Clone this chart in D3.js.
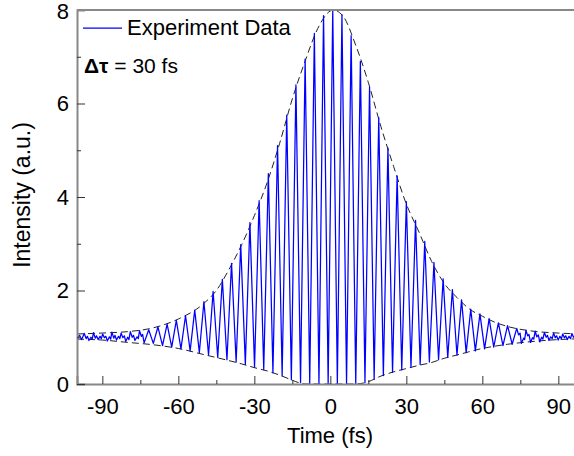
<!DOCTYPE html>
<html>
<head>
<meta charset="utf-8">
<script src="https://cdn.jsdelivr.net/npm/d3@7"></script>
<style>
  html, body { margin: 0; padding: 0; background: #fff; }
  svg { display: block; }
  text { font-family: "Liberation Sans", Arial, sans-serif; fill: #000; }
</style>
</head>
<body>
<svg id="chart" width="574" height="456"></svg>
<script>
// ---- data ----
const traceTime = [
  -100, -99.0, -98.2, -97.11, -96.4, -95.9, -95.29, -94.5, -94.0, -93.48, -92.8, -92.3, -91.66,
  -90.9, -90.4, -89.85, -89.2, -88.6, -88.03, -87.2, -86.7, -86.22, -85.5, -85.0, -84.40,
  -83.6, -83.1, -82.59, -81.9, -81.3, -80.77, -80.0, -79.5, -78.95, -78.2, -77.7, -77.13,
  -76.3, -75.8, -75.32, -74.6, -74.1, -73.50,
  -71.69, -69.87, -68.06, -66.24, -64.43, -62.61,
  -60.79, -58.97, -57.16, -55.34, -53.53, -51.71, -49.90, -48.08, -46.27, -44.45,
  -42.63, -40.81, -39.00, -37.18, -35.37, -33.55, -31.74, -29.92, -28.11, -26.29,
  -24.47, -22.66, -20.84, -19.02, -17.21, -15.39, -13.58, -11.76, -9.95, -8.13,
  -6.31, -4.49, -2.68, -0.86, 0.95, 2.77, 4.58, 6.40, 8.21, 10.03,
  11.85, 13.67, 15.48, 17.30, 19.11, 20.93, 22.74, 24.56, 26.37, 28.19,
  30.01, 31.83, 33.64, 35.46, 37.27, 39.09, 40.90, 42.72, 44.53, 46.35,
  48.17, 49.99, 51.80, 53.62, 55.43, 57.25, 59.06, 60.88, 62.69, 64.51,
  66.33, 68.15, 69.96, 71.78, 73.59, 74.3, 74.9, 75.41,
  76.3, 76.7, 77.22, 77.9, 78.4, 79.04, 79.8, 80.3, 80.85, 81.5, 82.1, 82.67,
  83.4, 83.9, 84.49, 85.2, 85.7, 86.31, 87.0, 87.6, 88.12, 88.8, 89.3, 89.94,
  90.6, 91.2, 91.75, 92.4, 92.9, 93.57, 94.2, 94.8, 95.38, 96.0, 96.6, 97.20,
  97.9, 98.4, 99.01, 99.6, 100
];
const traceIntensity = [
  0.98, 1.04, 0.95, 1.08, 0.97, 1.02, 0.93, 1.00, 0.96, 1.10, 0.98, 1.03, 0.95,
  1.02, 0.97, 1.07, 0.99, 1.02, 0.92, 1.01, 0.96, 1.11, 0.98, 1.04, 0.94,
  1.02, 0.97, 1.09, 0.99, 1.03, 0.91, 1.00, 0.95, 1.12, 1.00, 1.04, 0.93,
  1.01, 0.97, 1.14, 1.02, 1.06, 0.88,
  1.16, 0.87, 1.22, 0.82, 1.28, 0.79,
  1.36, 0.75, 1.46, 0.71, 1.58, 0.67, 1.76, 0.62, 1.98, 0.57,
  2.24, 0.52, 2.58, 0.47, 2.98, 0.42, 3.45, 0.36, 3.92, 0.31,
  4.50, 0.24, 5.10, 0.17, 5.75, 0.09, 6.40, 0.03, 6.95, 0.01,
  7.50, 0.00, 7.88, 0.01, 8.00, 0.00, 7.90, 0.01, 7.45, 0.00,
  6.90, 0.03, 6.35, 0.10, 5.70, 0.18, 5.05, 0.25, 4.45, 0.30,
  3.90, 0.36, 3.50, 0.42, 3.05, 0.47, 2.60, 0.52, 2.25, 0.57,
  2.02, 0.62, 1.80, 0.67, 1.60, 0.71, 1.50, 0.75, 1.40, 0.79,
  1.31, 0.82, 1.25, 0.85, 1.19, 1.05, 1.09, 0.87,
  0.98, 0.95, 1.15, 1.03, 1.06, 0.89, 0.99, 0.96, 1.13, 1.01, 1.05, 0.90,
  1.00, 0.96, 1.10, 1.00, 1.04, 0.93, 1.01, 0.97, 1.09, 0.99, 1.03, 0.94,
  1.02, 0.97, 1.07, 0.99, 1.03, 0.95, 1.02, 0.97, 1.08, 1.00, 1.03, 0.95,
  1.01, 0.97, 1.06, 0.99, 1.00
];
const envTime = [-100, -90, -80, -70, -60, -50, -45, -40, -35, -30, -25, -20, -15, -10, -5, 0, 1,
                 5, 10, 15, 20, 25, 30, 35, 40, 45, 50, 55, 60, 65, 70, 80, 90, 100];
const envUpper = [1.07, 1.09, 1.12, 1.20, 1.39, 1.72, 2.00, 2.45, 2.98, 3.60, 4.30, 5.15, 6.10, 6.90, 7.60, 7.98, 8.00,
                  7.87, 7.25, 6.45, 5.50, 4.65, 3.85, 3.25, 2.62, 2.15, 1.85, 1.60, 1.45, 1.32, 1.23, 1.13, 1.09, 1.07];
const envLowerTime = [-100, -90, -80, -70, -60, -50, -40, -35, -30, -25, -20, -15, -12, -10, 0, 10, 13, 15,
                      20, 25, 30, 35, 40, 45, 50, 60, 70, 80, 90, 100];
const envLower = [0.96, 0.94, 0.89, 0.84, 0.76, 0.63, 0.50, 0.43, 0.35, 0.28, 0.19, 0.08, 0.02, 0.00, 0.00, 0.00, 0.02, 0.05,
                  0.17, 0.26, 0.33, 0.40, 0.46, 0.55, 0.62, 0.76, 0.85, 0.91, 0.95, 0.97];
const xMajorTicks = [-90, -60, -30, 0, 30, 60, 90];
const xMinorTicks = [-75, -45, -15, 15, 45, 75];
const yMajorTicks = [0, 2, 4, 6, 8];
const yMinorTicks = [1, 3, 5, 7];
const legendLabel = "Experiment Data";
const xTitle = "Time (fs)";
const yTitle = "Intensity (a.u.)";

// ---- layout ----
const svg = d3.select("#chart");
const plotLeft = 77, plotTop = 10, plotBottom = 384;
const pxPerFs = 76 / 30;
const plotRight = plotLeft + 200 * pxPerFs;
const fontSize = 22;

const x = d3.scaleLinear().domain([-100, 100]).range([plotLeft, plotRight]);
const y = d3.scaleLinear().domain([0, 8]).range([plotBottom, plotTop]);

svg.append("defs").append("clipPath").attr("id", "plotclip")
  .append("rect").attr("x", plotLeft).attr("y", plotTop - 1)
  .attr("width", plotRight - plotLeft).attr("height", plotBottom - plotTop + 1);

const plot = svg.append("g").attr("clip-path", "url(#plotclip)");

// envelopes
const envLine = d3.line().x(d => x(d[0])).y(d => y(d[1])).curve(d3.curveMonotoneX);
plot.append("path")
  .datum(envTime.map((t, i) => [t, envUpper[i]]))
  .attr("d", envLine).attr("fill", "none").attr("stroke", "#222")
  .attr("stroke-width", 1).attr("stroke-dasharray", "7,4");
plot.append("path")
  .datum(envLowerTime.map((t, i) => [t, envLower[i]]))
  .attr("d", envLine).attr("fill", "none").attr("stroke", "#222")
  .attr("stroke-width", 1).attr("stroke-dasharray", "7,4");

// trace
const traceLine = d3.line().x(d => x(d[0])).y(d => y(d[1]));
plot.append("path")
  .datum(traceTime.map((t, i) => [t, traceIntensity[i]]))
  .attr("d", traceLine).attr("fill", "none").attr("stroke", "#0000ff")
  .attr("stroke-width", 1.25).attr("stroke-linejoin", "round");

// axes
const xAxis = d3.axisBottom(x).tickValues(xMajorTicks).tickSize(-8).tickPadding(14).tickFormat(d3.format("d"));
const gx = svg.append("g").attr("transform", `translate(0,${plotBottom})`).call(xAxis);
gx.select(".domain").attr("stroke", "#888").attr("stroke-width", 2);
gx.selectAll(".tick line").attr("stroke", "#333");
gx.selectAll(".tick text").attr("font-size", fontSize).attr("font-family", "Liberation Sans, Arial, sans-serif").attr("fill", "#000")
  .text(d => d < 0 ? "-" + Math.abs(d) : d);
const gxm = svg.append("g").attr("transform", `translate(0,${plotBottom})`)
  .call(d3.axisBottom(x).tickValues(xMinorTicks).tickSize(-4).tickFormat(""));
gxm.select(".domain").remove();
gxm.selectAll(".tick line").attr("stroke", "#333");

const yAxis = d3.axisLeft(y).tickValues(yMajorTicks).tickSize(-8).tickPadding(8).tickFormat(d3.format("d"));
const gy = svg.append("g").attr("transform", `translate(${plotLeft},0)`).call(yAxis);
gy.select(".domain").attr("stroke", "#888").attr("stroke-width", 2);
gy.selectAll(".tick line").attr("stroke", "#333");
gy.selectAll(".tick text").attr("font-size", fontSize).attr("font-family", "Liberation Sans, Arial, sans-serif").attr("fill", "#000")
  .attr("dy", d => d === 8 ? "0.38em" : "0.32em");
const gym = svg.append("g").attr("transform", `translate(${plotLeft},0)`)
  .call(d3.axisLeft(y).tickValues(yMinorTicks).tickSize(-4).tickFormat(""));
gym.select(".domain").remove();
gym.selectAll(".tick line").attr("stroke", "#333");

// top frame
svg.append("line").attr("x1", plotLeft).attr("x2", plotRight).attr("y1", y(8)).attr("y2", y(8))
  .attr("stroke", "#888").attr("stroke-width", 2);

// titles
svg.append("text").attr("x", 330).attr("y", 443).attr("text-anchor", "middle")
  .attr("font-size", fontSize).text(xTitle);
svg.append("text").attr("transform", `translate(30,195) rotate(-90)`).attr("text-anchor", "middle")
  .attr("font-size", 23).text(yTitle);

// legend
svg.append("line").attr("x1", 83).attr("x2", 122).attr("y1", 28).attr("y2", 28)
  .attr("stroke", "#0000ff").attr("stroke-width", 1.25);
svg.append("text").attr("x", 127).attr("y", 35).attr("font-size", fontSize).text(legendLabel);

// annotation
const ann = svg.append("text").attr("x", 84).attr("y", 73).attr("font-size", 21);
ann.append("tspan").attr("font-weight", "bold").text("Δτ");
ann.append("tspan").text(" = 30 fs");
</script>
</body>
</html>
